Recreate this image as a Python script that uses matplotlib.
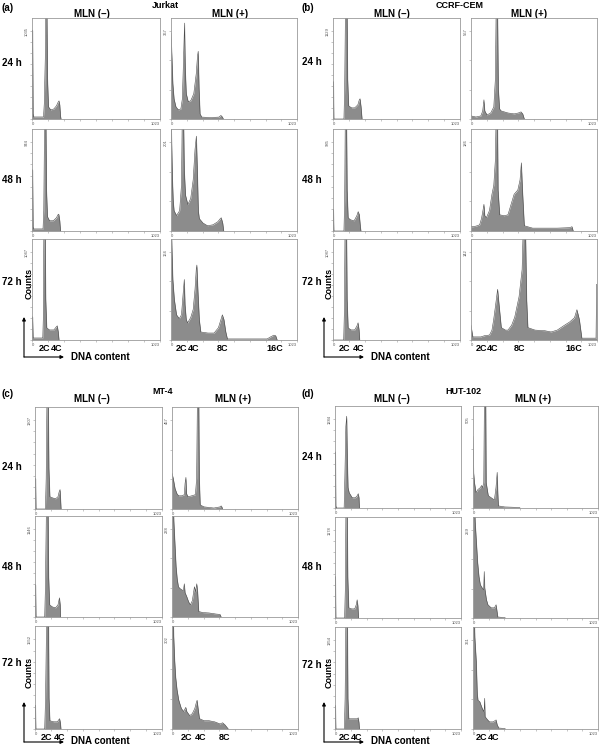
import numpy as np
import matplotlib
matplotlib.use("Agg")
import matplotlib.pyplot as plt
from matplotlib.transforms import blended_transform_factory

plt.rcParams['font.family'] = ['Liberation Sans', 'DejaVu Sans']

# ---- data: histogram outlines as (DNA channel, counts) ----
hours = ['24 h', '48 h', '72 h']
columns = ['MLN (\u2013)', 'MLN (+)']

# (a) Jurkat
jurkat_max_neg = [1035, 944, 1047]
jurkat_max_pos = [367, 201, 164]
jurkat_neg_24 = [(0, 0), (1, 1047), (5, 1047), (9, 60), (14, 24), (92, 24), (98, 179), (106, 714), (112, 1547),
                 (118, 1547), (124, 476), (132, 143), (150, 107), (175, 119), (195, 155), (210, 202), (216, 214),
                 (222, 167), (228, 36), (232, 0)]
jurkat_neg_48 = [(0, 0), (1, 652), (5, 652), (9, 43), (14, 22), (88, 22), (94, 217), (102, 1412), (110, 1412),
                 (116, 434), (124, 152), (140, 109), (170, 109), (195, 141), (208, 174), (214, 179), (222, 109),
                 (228, 0)]
jurkat_neg_72 = [(0, 0), (1, 277), (5, 277), (9, 24), (86, 24), (90, 241), (96, 1565), (104, 1565), (110, 482),
                 (118, 144), (140, 120), (175, 120), (194, 157), (202, 169), (210, 96), (216, 0)]
jurkat_pos_24 = [(0, 359), (8, 253), (15, 148), (25, 84), (40, 51), (60, 38), (80, 42), (92, 84), (102, 253),
                 (110, 401), (116, 211), (124, 106), (140, 72), (160, 76), (185, 106), (205, 190), (215, 262),
                 (221, 283), (228, 127), (236, 21), (250, 8), (320, 6), (390, 8), (405, 15), (418, 8), (425, 0)]
jurkat_pos_48 = [(0, 300), (5, 208), (12, 116), (18, 69), (25, 46), (45, 35), (70, 46), (85, 104), (93, 300),
                 (100, 300), (108, 139), (118, 81), (137, 60), (160, 74), (180, 116), (195, 185), (206, 215),
                 (214, 139), (222, 46), (230, 28), (260, 18), (296, 12), (340, 14), (380, 21), (400, 28),
                 (408, 30), (420, 18), (428, 0)]
jurkat_pos_72 = [(0, 246), (8, 170), (15, 113), (27, 76), (45, 47), (67, 40), (85, 47), (98, 85), (108, 113),
                 (114, 66), (124, 38), (135, 32), (160, 42), (180, 57), (195, 95), (205, 132), (210, 140),
                 (218, 95), (230, 38), (242, 15), (300, 13), (350, 13), (385, 23), (405, 38), (417, 47),
                 (430, 38), (445, 15), (458, 2), (780, 2), (810, 6), (835, 9), (850, 8), (862, 0)]

# (b) CCRF-CEM
ccrf_max_neg = [1129, 985, 1087]
ccrf_max_pos = [567, 186, 142]
ccrf_neg_24 = [(0, 0), (1, 480), (4, 480), (7, 0), (88, 0), (94, 389), (102, 1687), (112, 1687), (118, 519),
               (126, 169), (150, 143), (175, 143), (200, 182), (212, 247), (218, 260), (226, 156), (234, 0)]
ccrf_neg_48 = [(0, 0), (1, 238), (4, 238), (7, 0), (88, 0), (94, 340), (100, 1473), (108, 1473), (114, 453),
               (122, 147), (140, 125), (170, 113), (192, 170), (203, 215), (212, 181), (220, 57), (225, 0)]
ccrf_neg_72 = [(0, 0), (86, 0), (92, 375), (98, 1625), (108, 1625), (114, 500), (122, 150), (145, 125),
               (175, 125), (193, 175), (202, 213), (210, 125), (215, 0)]
ccrf_pos_24 = [(0, 20), (40, 13), (80, 20), (95, 52), (105, 124), (112, 52), (130, 26), (160, 39), (185, 78),
               (198, 261), (206, 848), (214, 848), (222, 196), (232, 65), (245, 52), (300, 39), (350, 33),
               (385, 39), (406, 46), (420, 33), (433, 0)]
ccrf_pos_48 = [(0, 9), (20, 9), (50, 11), (70, 13), (85, 26), (97, 43), (105, 56), (112, 32), (125, 28),
               (150, 43), (170, 77), (185, 96), (198, 150), (206, 278), (214, 278), (220, 86), (233, 34),
               (270, 32), (300, 34), (330, 60), (350, 77), (380, 86), (398, 107), (409, 143), (418, 86),
               (433, 11), (500, 6), (600, 6), (700, 6), (800, 7), (820, 9), (830, 0)]
ccrf_pos_72 = [(0, 24), (6, 16), (15, 5), (80, 5), (110, 7), (150, 8), (170, 16), (184, 33), (200, 57),
               (216, 82), (228, 57), (246, 20), (280, 16), (300, 16), (330, 24), (355, 37), (390, 70),
               (415, 114), (428, 212), (440, 212), (452, 65), (462, 20), (520, 16), (600, 15), (650, 13),
               (700, 16), (760, 24), (800, 29), (840, 36), (860, 49), (880, 33), (900, 3), (1015, 3),
               (1020, 90), (1023, 90)]

# (c) MT-4
mt4_max_neg = [1307, 1146, 1552]
mt4_max_pos = [457, 238, 302]
mt4_neg_24 = [(0, 0), (1, 451), (5, 451), (8, 0), (84, 0), (90, 451), (98, 1954), (106, 1954), (112, 601),
              (120, 180), (140, 165), (165, 150), (185, 180), (195, 256), (202, 286), (206, 150), (210, 0)]
mt4_neg_48 = [(0, 0), (1, 422), (5, 422), (8, 0), (78, 0), (84, 395), (94, 1713), (104, 1713), (110, 527),
              (118, 158), (140, 132), (165, 119), (185, 158), (197, 250), (203, 158), (205, 0)]
mt4_neg_72 = [(0, 0), (1, 411), (4, 411), (7, 0), (78, 0), (85, 536), (96, 2321), (108, 2321), (113, 536),
              (120, 143), (150, 125), (180, 125), (192, 161), (198, 179), (205, 107), (209, 0)]
mt4_pos_24 = [(0, 184), (10, 158), (25, 105), (40, 79), (54, 68), (80, 68), (100, 74), (106, 132), (113, 163),
              (118, 79), (130, 63), (160, 68), (190, 74), (200, 158), (208, 684), (216, 684), (222, 158),
              (229, 21), (260, 11), (340, 5), (390, 11), (399, 16), (405, 11), (410, 0)]
mt4_pos_48 = [(0, 356), (8, 356), (15, 260), (25, 192), (33, 137), (42, 104), (52, 82), (65, 77), (79, 74),
              (92, 71), (100, 90), (106, 66), (120, 55), (135, 41), (149, 33), (165, 44), (182, 82), (192, 69),
              (201, 90), (208, 69), (217, 15), (250, 12), (300, 11), (358, 8), (390, 7), (399, 0)]
mt4_pos_72 = [(0, 451), (8, 451), (14, 312), (22, 229), (30, 174), (41, 132), (55, 97), (76, 69), (95, 59),
              (103, 66), (112, 73), (120, 59), (144, 45), (165, 52), (185, 69), (198, 90), (204, 97),
              (212, 69), (223, 35), (260, 28), (300, 28), (348, 24), (390, 17), (411, 21), (430, 14), (457, 0)]

# (d) HUT-102
hut_max_neg = [1284, 1178, 1354]
hut_max_pos = [505, 259, 361]
hut_neg_24 = [(0, 0), (1, 812), (4, 812), (7, 30), (12, 0), (74, 0), (80, 443), (88, 1182), (95, 1329),
              (100, 739), (106, 295), (115, 222), (140, 148), (165, 148), (180, 177), (189, 207), (195, 148),
              (198, 0)]
hut_neg_48 = [(0, 0), (1, 556), (4, 556), (7, 0), (78, 0), (84, 407), (90, 1762), (98, 1762), (104, 542),
              (112, 136), (135, 122), (160, 122), (172, 176), (180, 244), (186, 163), (191, 0)]
hut_neg_72 = [(0, 0), (1, 358), (4, 358), (7, 0), (76, 0), (82, 467), (90, 2024), (100, 2024), (105, 467),
              (112, 156), (150, 156), (180, 156), (189, 171), (195, 93), (198, 0)]
hut_pos_24 = [(0, 407), (5, 203), (12, 145), (25, 87), (40, 105), (60, 116), (70, 128), (78, 116), (88, 145),
              (95, 755), (103, 755), (108, 145), (125, 70), (150, 58), (175, 46), (188, 116), (198, 203),
              (203, 87), (208, 12), (260, 6), (379, 3), (385, 0)]
hut_pos_48 = [(0, 387), (8, 387), (18, 283), (27, 229), (38, 164), (49, 122), (60, 98), (75, 89), (87, 83),
              (92, 137), (96, 89), (110, 54), (122, 39), (149, 30), (175, 30), (189, 39), (195, 24), (203, 3),
              (260, 1), (265, 0)]
hut_pos_72 = [(0, 540), (8, 540), (15, 374), (27, 274), (35, 145), (41, 116), (55, 112), (70, 91), (87, 71),
              (92, 83), (95, 125), (99, 50), (120, 37), (135, 29), (165, 29), (189, 37), (198, 17), (211, 4),
              (260, 2), (265, 0)]

# peak labels under the 72 h row: (label, channel)
jurkat_peaks = [[('2C', 96), ('4C', 200)], [('2C', 89), ('4C', 180), ('8C', 420), ('16C', 845)]]
ccrf_peaks = [[('2C', 89), ('4C', 209)], [('2C', 89), ('4C', 179), ('8C', 390), ('16C', 836)]]
mt4_peaks = [[('2C', 89), ('4C', 201)], [('2C', 114), ('4C', 235), ('8C', 430)]]
hut_peaks = [[('2C', 80), ('4C', 177)], [('2C', 73), ('4C', 170)]]

W, H = 600, 749
FILL = '#8c8c8c'
EDGE = '#4a4a4a'
FRAME = '#9a9a9a'

fig = plt.figure(figsize=(6, 7.49), dpi=100)
over = fig.add_axes([0, 0, 1, 1])
over.set_xlim(0, W)
over.set_ylim(H, 0)
over.axis('off')


def hist_axes(x0, x1, y0, y1, pts, ymax, right_col, peaks=None):
    ax = fig.add_axes([x0 / W, 1 - y1 / H, (x1 - x0) / W, (y1 - y0) / H])
    ch = [p[0] for p in pts]
    cnt = [p[1] for p in pts]
    ax.fill_between(ch, cnt, color=FILL, lw=0)
    ax.plot(ch, cnt, color=EDGE, lw=0.4)
    ax.set_xlim(0, 1023)
    ax.set_ylim(0, ymax * 1.15)
    for s in ax.spines.values():
        s.set_color(FRAME)
        s.set_linewidth(0.6)
    xt = list(range(0, 1023, 128)) + [1023]
    ax.set_xticks(xt)
    ax.set_xticklabels(['0'] + [''] * (len(xt) - 2) + ['1023'])
    n = 3 if right_col else 8
    yt = np.linspace(0, ymax, n + 1)
    ax.set_yticks(yt)
    ax.set_yticklabels([''] * n + [str(ymax)])
    ax.tick_params(length=1.5, width=0.4, color=FRAME, labelsize=3, labelcolor='#555555', pad=1)
    xl = ax.get_xticklabels()
    xl[0].set_ha('left')
    xl[-1].set_ha('right')
    for t in ax.get_yticklabels():
        t.set_rotation(90)
        t.set_va('center')
    if peaks:
        tr = blended_transform_factory(ax.transData, ax.transAxes)
        for lab, c in peaks:
            ax.text(c, -0.085, lab, transform=tr, ha='center', va='center', fontsize=6.5,
                    fontweight='bold', clip_on=False)
    return ax


panels = [
    dict(tag='(a)', title='Jurkat', dx=0, cols=[(32, 160), (171, 297)], rows=[(18, 119), (129, 231), (239, 340)],
         head_y=(6, 14), hour_y=[63, 180, 282], title_x=165, mln_x=(92, 230), arrow_dy=17,
         neg=[jurkat_neg_24, jurkat_neg_48, jurkat_neg_72], pos=[jurkat_pos_24, jurkat_pos_48, jurkat_pos_72],
         max_neg=jurkat_max_neg, max_pos=jurkat_max_pos, peaks=jurkat_peaks),
    dict(tag='(b)', title='CCRF-CEM', dx=300, cols=[(333, 460), (471, 597)], rows=[(18, 119), (129, 231), (239, 340)],
         head_y=(6, 14), hour_y=[62, 180, 282], title_x=460, mln_x=(392, 529), arrow_dy=17,
         neg=[ccrf_neg_24, ccrf_neg_48, ccrf_neg_72], pos=[ccrf_pos_24, ccrf_pos_48, ccrf_pos_72],
         max_neg=ccrf_max_neg, max_pos=ccrf_max_pos, peaks=ccrf_peaks),
    dict(tag='(c)', title='MT-4', dx=0, cols=[(35, 162), (172, 298)], rows=[(407, 509), (516, 617), (626, 729)],
         head_y=(392, 399), hour_y=[467, 567, 663], title_x=163, mln_x=(92, 233), arrow_dy=13,
         neg=[mt4_neg_24, mt4_neg_48, mt4_neg_72], pos=[mt4_pos_24, mt4_pos_48, mt4_pos_72],
         max_neg=mt4_max_neg, max_pos=mt4_max_pos, peaks=mt4_peaks),
    dict(tag='(d)', title='HUT-102', dx=300, cols=[(335, 461), (473, 598)], rows=[(406, 508), (517, 618), (627, 729)],
         head_y=(392, 399), hour_y=[457, 567, 665], title_x=463, mln_x=(392, 533), arrow_dy=13,
         neg=[hut_neg_24, hut_neg_48, hut_neg_72], pos=[hut_pos_24, hut_pos_48, hut_pos_72],
         max_neg=hut_max_neg, max_pos=hut_max_pos, peaks=hut_peaks),
]

for p in panels:
    dx = p['dx']
    over.text(dx + 1, p['head_y'][0] + 2, p['tag'], fontsize=7, fontweight='bold', ha='left', va='center')
    over.text(p['title_x'], p['head_y'][0], p['title'], fontsize=6.5, fontweight='bold', ha='center', va='center')
    over.text(p['mln_x'][0], p['head_y'][1], columns[0], fontsize=7, fontweight='bold', ha='center', va='center')
    over.text(p['mln_x'][1], p['head_y'][1], columns[1], fontsize=7, fontweight='bold', ha='center', va='center')
    for i, (y0, y1) in enumerate(p['rows']):
        over.text(dx + 2, p['hour_y'][i], hours[i], fontsize=7, fontweight='bold', ha='left', va='center')
        last = i == 2
        hist_axes(p['cols'][0][0], p['cols'][0][1], y0, y1, p['neg'][i], p['max_neg'][i], False,
                  p['peaks'][0] if last else None)
        hist_axes(p['cols'][1][0], p['cols'][1][1], y0, y1, p['pos'][i], p['max_pos'][i], True,
                  p['peaks'][1] if last else None)
    # axis arrows under the 72 h row
    yb = p['rows'][2][1]
    cx, cy = dx + 24, yb + p['arrow_dy']
    arr = dict(arrowstyle='-|>', color='k', lw=0.8, mutation_scale=5, shrinkA=0, shrinkB=0)
    over.annotate('', xy=(cx, cy - 40), xytext=(cx, cy), arrowprops=arr)
    over.annotate('', xy=(cx + 40, cy), xytext=(cx, cy), arrowprops=arr)
    over.text(cx + 47, cy - 0.5, 'DNA content', fontsize=7, fontweight='bold', ha='left', va='center')
    over.text(cx + 5, yb - 57, 'Counts', fontsize=6.5, fontweight='bold', rotation=90, ha='center', va='center')

fig.savefig('out.png', dpi=100)
